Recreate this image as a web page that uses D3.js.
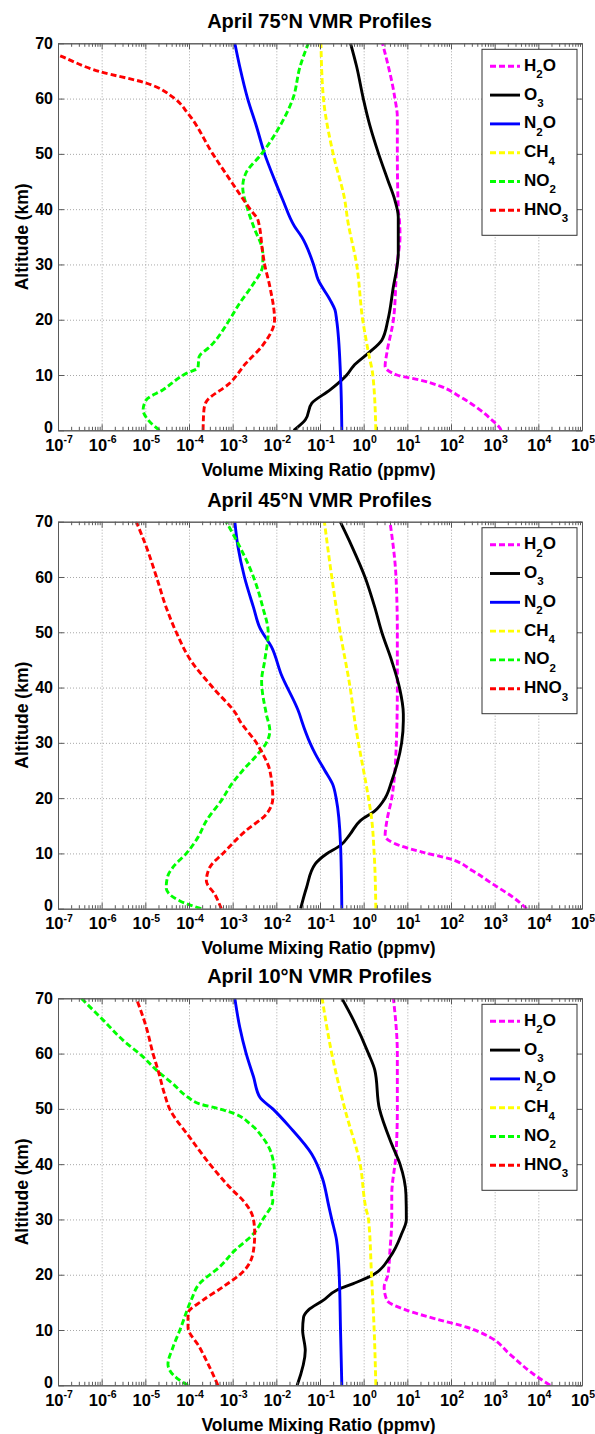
<!DOCTYPE html>
<html>
<head>
<meta charset="utf-8">
<script src="https://cdn.jsdelivr.net/npm/d3@7"></script>
<style>
  body { margin: 0; background: #fff; }
  svg { display: block; }
  text { font-family: "Liberation Sans", Arial, Helvetica, sans-serif; font-weight: bold; fill: #000; }
</style>
</head>
<body>
<svg id="chart" width="595" height="1434"></svg>
<script>
// ---- axis ticks ----
const decadeExponents = [-7, -6, -5, -4, -3, -2, -1, 0, 1, 2, 3, 4, 5];
const altitudeTicks = [0, 10, 20, 30, 40, 50, 60, 70];

// ---- species legend ----
const speciesNames = ["H2O", "O3", "N2O", "CH4", "NO2", "HNO3"];
const speciesColors = ["#ff00ff", "#000000", "#0000ff", "#ffff00", "#00ff00", "#ff0000"];
const speciesDashed = [true, false, false, true, true, true];

const panelTitles = ["April 75°N VMR Profiles", "April 45°N VMR Profiles", "April 10°N VMR Profiles"];

// ---- 75°N profiles: [altitude km, VMR ppmv] ----
const h2o75 = [[0,1400],[0.4,1320],[1.9,850],[3.7,460],[6.1,160],[8,56],[9.1,19.5],[10,5.8],[11.6,3.1],[14,3.4],[20,4.8],[30,5.8],[35,6.8],[38,6.6],[40,6.2],[50,5.9],[56.7,5.9],[60,5.2],[70,2.7]];
const o375 = [[0,0.025],[1.9,0.046],[4.9,0.065],[7.3,0.17],[10,0.41],[11.6,0.58],[14,1.3],[16.3,2.6],[20,3.6],[26,4.8],[30,5.9],[32,6.2],[38.6,6.2],[41.6,5.2],[45.2,3.6],[50,2.2],[55,1.4],[60,0.98],[65.8,0.69],[70,0.5]];
const n2o75 = [[0,0.316],[10,0.295],[20,0.24],[21.8,0.22],[23.6,0.17],[27.2,0.091],[30,0.071],[35,0.038],[36.9,0.026],[41.7,0.014],[45.3,0.0091],[50,0.0054],[55,0.0035],[60,0.0022],[65.8,0.00145],[70,0.00112]];
const ch475 = [[0,1.9],[10,1.62],[14,1.29],[20,0.95],[30,0.69],[38,0.43],[41.6,0.37],[50,0.2],[60,0.12],[70,0.105]];
const no275 = [[0,2.1e-5],[1.9,1.15e-5],[3.7,8.9e-6],[5.5,1.05e-5],[7.3,2.5e-5],[10.3,8.7e-5],[11.3,1.6e-4],[13.3,1.7e-4],[15.1,3.0e-4],[20,8.5e-4],[23,1.45e-3],[26,2.7e-3],[30,4.9e-3],[32,4.9e-3],[36.9,3.0e-3],[40,2.2e-3],[44,1.7e-3],[46.5,2.0e-3],[50,4.6e-3],[55,1.2e-2],[60,2.4e-2],[65.8,3.5e-2],[70,5.4e-2]];
const hno375 = [[0,2.1e-4],[3.7,2.2e-4],[5.2,2.5e-4],[8.5,8.5e-4],[12.1,2.0e-3],[15.4,4.9e-3],[20,9.1e-3],[26,7.1e-3],[30,5.4e-3],[32,4.9e-3],[38,3.8e-3],[40,2.5e-3],[44.6,1.0e-3],[50,3.5e-4],[57.3,9.5e-5],[60,4.7e-5],[62.8,1.05e-5],[64.9,8.9e-7],[67.9,1.0e-7],[70,2.1e-8]];

// ---- 45°N profiles ----
const h2o45 = [[0,5400],[2,2700],[4.4,930],[6.8,320],[9,95],[10.2,23],[11.4,6.8],[13.2,3.1],[15.9,3.4],[20,4.4],[25,5.2],[30,5.6],[34,5.8],[40,5.9],[50,5.9],[60,5.5],[70,4.0]];
const o345 = [[0,0.036],[3.8,0.049],[8.1,0.078],[9.9,0.14],[11.4,0.29],[13.5,0.49],[15.9,0.83],[17.7,1.8],[20,3.1],[23.1,4.4],[26.1,5.8],[30,7.4],[34,8.1],[35.2,8.1],[40,6.6],[44.8,4.4],[50,2.6],[54.5,1.8],[60,1.07],[65.5,0.54],[70,0.29]];
const n2o45 = [[0,0.316],[11.7,0.295],[20,0.234],[22.5,0.195],[25,0.129],[28,0.078],[30,0.059],[34,0.038],[35.2,0.034],[42.4,0.0129],[47.3,0.0078],[50.8,0.0042],[54.5,0.003],[60,0.00186],[65.5,0.00132],[70,0.00112]];
const ch445 = [[0,1.9],[10,1.74],[16.5,1.51],[20,1.29],[30,0.76],[32.8,0.66],[40,0.49],[50,0.29],[60,0.186],[70,0.126]];
const no245 = [[0,1.9e-4],[1.4,6.2e-5],[3.8,3.0e-5],[6,3.3e-5],[7.5,4.3e-5],[10,8.7e-5],[12.9,1.6e-4],[15.9,2.5e-4],[20,6.0e-4],[22,8.5e-4],[25,1.7e-3],[28,3.8e-3],[30,5.9e-3],[32.2,7.1e-3],[35.2,5.9e-3],[41.2,4.6e-3],[44.8,5.4e-3],[50,6.5e-3],[54.5,4.9e-3],[60,3.0e-3],[65.5,1.45e-3],[70,7.1e-4]];
const hno345 = [[0,5.5e-4],[2.6,3.9e-4],[5,2.5e-4],[7.5,3.0e-4],[10,6.0e-4],[14.1,2.0e-3],[17.1,5.9e-3],[20,8.3e-3],[25,7.1e-3],[28,4.9e-3],[30,3.5e-3],[34,1.45e-3],[35.2,1.2e-3],[40,3.5e-4],[44.8,1.12e-4],[50,5.1e-5],[54.5,3.0e-5],[60,1.8e-5],[65.5,1.05e-5],[70,6.2e-6]];

// ---- 10°N profiles ----
const h2o10 = [[0,18600],[2,7800],[5.6,2240],[8.7,780],[10.5,230],[11.8,56],[13.6,9.5],[15.4,3.4],[17.8,2.95],[20,3.6],[24.4,4.0],[30,4.4],[34.5,4.4],[41.8,5.5],[50,5.9],[60,5.9],[70,4.8]];
const o310 = [[0,0.03],[6.3,0.046],[10,0.04],[12.3,0.042],[13.6,0.054],[15.4,0.12],[17.2,0.24],[18.4,0.58],[20,1.66],[23.2,4.0],[27.4,7.4],[30,9.5],[34.5,9.3],[40,6.8],[43.6,4.4],[50,2.3],[57,1.8],[60,1.29],[66.1,0.58],[70,0.316]];
const n2o10 = [[0,0.316],[10,0.295],[20,0.275],[26.2,0.24],[30,0.186],[32.5,0.158],[37.6,0.112],[41.8,0.065],[46.7,0.0204],[50,0.0083],[52.1,0.0042],[55.8,0.003],[60,0.00204],[64.8,0.00145],[70,0.00112]];
const ch410 = [[0,1.9],[10,1.74],[20,1.51],[30,1.29],[32.1,1.12],[40,0.83],[50,0.37],[60,0.186],[70,0.112]];
const no210 = [[0,9.5e-5],[1.4,5.1e-5],[3.8,3.3e-5],[6.9,4.3e-5],[10,6.2e-5],[15.4,1.12e-4],[18.4,1.74e-4],[21.4,5.0e-4],[24.4,1.12e-3],[27.4,3.0e-3],[30,4.9e-3],[33.4,8.3e-3],[34.5,7.8e-3],[38.2,9.1e-3],[41.8,7.8e-3],[44.8,4.9e-3],[47.3,2.5e-3],[49.1,1.12e-3],[50,5.0e-4],[50.9,1.74e-4],[52.1,9.5e-5],[54.5,4.3e-5],[57,1.8e-5],[59.4,8.9e-6],[62.4,3.1e-6],[66.1,1.07e-6],[70,3.4e-7]];
const hno310 = [[0,4.6e-4],[3.2,3.0e-4],[6.9,1.74e-4],[10.5,9.5e-5],[13,9.5e-5],[15.4,2.1e-4],[17.8,6.0e-4],[20.8,1.86e-3],[24.4,3.0e-3],[27.4,3.2e-3],[30,3.0e-3],[33.4,1.74e-3],[35.2,1.02e-3],[40,3.0e-4],[44.8,1.05e-4],[50,3.6e-5],[52.7,2.75e-5],[57,1.95e-5],[60,1.5e-5],[64.8,1.05e-5],[70,6.2e-6]];

const panelProfiles = [
  [h2o75, o375, n2o75, ch475, no275, hno375],
  [h2o45, o345, n2o45, ch445, no245, hno345],
  [h2o10, o310, n2o10, ch410, no210, hno310]
];

// ---- layout ----
const plotLeft = 58, plotRight = 582, plotHeight = 387;
const panelTops = [43.3, 521.7, 998.3];

const svg = d3.select("#chart");

// Chemical formula with numeric subscripts
function formula(sel, name, size, subSize, subShift) {
  const parts = name.match(/[A-Za-z]+|\d+/g);
  let shifted = false;
  parts.forEach(p => {
    const isNum = /\d/.test(p);
    const t = sel.append("tspan").text(p);
    if (isNum) {
      t.attr("font-size", subSize).attr("dy", subShift);
      shifted = true;
    } else {
      t.attr("font-size", size);
      if (shifted) { t.attr("dy", -subShift); shifted = false; }
    }
  });
}

panelTops.forEach((top, pi) => {
  const bottom = top + plotHeight;
  const x = d3.scaleLog().domain([1e-7, 1e5]).range([plotLeft, plotRight]);
  const y = d3.scaleLinear().domain([0, 70]).range([bottom, top]);
  const g = svg.append("g");

  const decades = decadeExponents.map(e => Math.pow(10, e));
  const minors = [];
  decadeExponents.slice(0, -1).forEach(e => {
    for (let m = 2; m <= 9; m++) minors.push(m * Math.pow(10, e));
  });

  // dotted grid
  g.append("g").attr("transform", `translate(0,${bottom})`)
    .call(d3.axisBottom(x).tickValues(decades.slice(1, -1)).tickSize(-plotHeight).tickFormat(""))
    .call(a => a.select(".domain").remove())
    .selectAll("line").attr("stroke", "#a8a8a8").attr("stroke-dasharray", "1,2");
  g.append("g").attr("transform", `translate(${plotLeft},0)`)
    .call(d3.axisLeft(y).tickValues(altitudeTicks.slice(1, -1)).tickSize(-(plotRight - plotLeft)).tickFormat(""))
    .call(a => a.select(".domain").remove())
    .selectAll("line").attr("stroke", "#a8a8a8").attr("stroke-dasharray", "1,2");

  // profiles
  const clipId = "clip" + pi;
  g.append("clipPath").attr("id", clipId)
    .append("rect").attr("x", plotLeft).attr("y", top)
    .attr("width", plotRight - plotLeft).attr("height", plotHeight);
  const line = d3.line().x(d => x(d[1])).y(d => y(d[0])).curve(d3.curveMonotoneY);
  const lg = g.append("g").attr("clip-path", `url(#${clipId})`);
  panelProfiles[pi].forEach((prof, si) => {
    lg.append("path").datum(prof)
      .attr("d", line)
      .attr("fill", "none")
      .attr("stroke", speciesColors[si])
      .attr("stroke-width", 2.9)
      .attr("stroke-linejoin", "round")
      .attr("stroke-dasharray", speciesDashed[si] ? "6,3" : null);
  });

  // box + inward ticks
  const axisColor = "#5a5a5a";
  function styleAxis(a) {
    a.select(".domain").attr("stroke", axisColor);
    a.selectAll("line").attr("stroke", axisColor);
  }
  g.append("g").attr("transform", `translate(0,${bottom})`)
    .call(d3.axisBottom(x).tickValues(minors).tickSizeInner(-3.5).tickSizeOuter(0).tickFormat("")).call(styleAxis);
  g.append("g").attr("transform", `translate(0,${bottom})`)
    .call(d3.axisBottom(x).tickValues(decades).tickSizeInner(-6).tickSizeOuter(0).tickFormat("")).call(styleAxis);
  g.append("g").attr("transform", `translate(0,${top})`)
    .call(d3.axisTop(x).tickValues(minors).tickSizeInner(-3.5).tickSizeOuter(0).tickFormat("")).call(styleAxis);
  g.append("g").attr("transform", `translate(0,${top})`)
    .call(d3.axisTop(x).tickValues(decades).tickSizeInner(-6).tickSizeOuter(0).tickFormat("")).call(styleAxis);
  g.append("g").attr("transform", `translate(${plotLeft},0)`)
    .call(d3.axisLeft(y).tickValues(altitudeTicks).tickSizeInner(-6).tickSizeOuter(0).tickFormat("")).call(styleAxis);
  g.append("g").attr("transform", `translate(${plotRight},0)`)
    .call(d3.axisRight(y).tickValues(altitudeTicks).tickSizeInner(-6).tickSizeOuter(0).tickFormat("")).call(styleAxis);

  // x tick labels: 10^n
  decadeExponents.forEach(e => {
    const t = g.append("text")
      .attr("x", x(Math.pow(10, e)) + 1)
      .attr("y", bottom + 20.5)
      .attr("text-anchor", "middle");
    t.append("tspan").attr("font-size", 16.5).text("10");
    t.append("tspan").attr("font-size", 10.5).attr("dy", -7.5).text(String(e));
  });

  // y tick labels
  altitudeTicks.forEach(v => {
    g.append("text")
      .attr("x", plotLeft - 5)
      .attr("y", y(v) + (v === 0 ? 2.5 : 5.6))
      .attr("text-anchor", "end")
      .attr("font-size", 16)
      .text(v);
  });

  // title and axis titles
  g.append("text").attr("x", 319.5).attr("y", top - 15)
    .attr("text-anchor", "middle").attr("font-size", 20).text(panelTitles[pi]);
  g.append("text").attr("x", 318.5).attr("y", bottom + 45.3)
    .attr("text-anchor", "middle").attr("font-size", 17.5).text("Volume Mixing Ratio (ppmv)");
  g.append("text")
    .attr("transform", `translate(28,${(top + bottom) / 2}) rotate(-90)`)
    .attr("text-anchor", "middle").attr("font-size", 17.5).text("Altitude (km)");

  // legend
  const boxX = 482, boxY = top + 6, boxW = 95, boxH = 186;
  const leg = g.append("g");
  leg.append("rect").attr("x", boxX).attr("y", boxY).attr("width", boxW).attr("height", boxH)
    .attr("fill", "#fff").attr("stroke", "#333").attr("stroke-width", 1);
  speciesNames.forEach((name, si) => {
    const ly = boxY + 17 + si * 28.8;
    leg.append("line").attr("x1", 490).attr("x2", 520).attr("y1", ly).attr("y2", ly)
      .attr("stroke", speciesColors[si]).attr("stroke-width", 2.9)
      .attr("stroke-dasharray", speciesDashed[si] ? "6,3" : null);
    const t = leg.append("text").attr("x", 524).attr("y", ly + 4.5);
    formula(t, name, 17, 11.5, 7.4);
  });
});
</script>
</body>
</html>
